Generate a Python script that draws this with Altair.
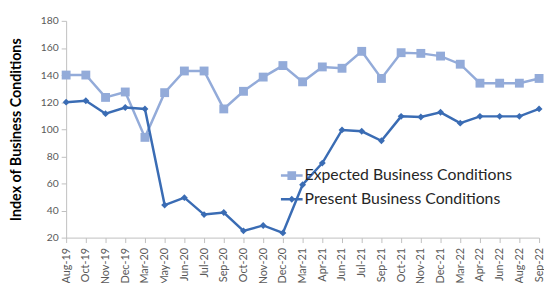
import altair as alt
import pandas as pd

months = ["Aug-19", "Oct-19", "Nov-19", "Dec-19", "Mar-20", "May-20", "Jun-20",
          "Jul-20", "Sep-20", "Oct-20", "Nov-20", "Dec-20", "Mar-21", "Apr-21",
          "Jun-21", "Jul-21", "Sep-21", "Oct-21", "Nov-21", "Dec-21", "Mar-22",
          "Apr-22", "Jun-22", "Aug-22", "Sep-22"]
expected = [140, 140, 123.5, 127.5, 94, 127, 143, 143, 115, 128, 138.5, 147, 135,
            146, 145, 157.5, 137.5, 156.5, 156, 154, 148, 134, 134, 134, 137.5]
present = [120, 121, 111.5, 116, 115, 44, 49.5, 37, 38.5, 25, 29, 23.5, 59, 75,
           99.5, 98.5, 91.5, 109.5, 109, 112.5, 104.5, 109.5, 109.5, 109.5, 115]
series_names = ["Expected Business Conditions", "Present Business Conditions"]
y_ticks = [20, 40, 60, 80, 100, 120, 140, 160, 180]

df = pd.DataFrame({
    "month": months * 2,
    "value": expected + present,
    "series": [series_names[0]] * len(months) + [series_names[1]] * len(months),
})

FONT = "Lato"
colors = ["#93ABD9", "#3A6CB4"]

legend_paths = [
    "M-1,-0.11H1V0.11H-1Z M-0.4,-0.4H0.4V0.4H-0.4Z",
    "M-1,-0.11H1V0.11H-1Z M0,-0.32L0.32,0L0,0.32L-0.32,0Z",
]

x_enc = alt.X("month:O", sort=months, scale=alt.Scale(padding=0),
              axis=alt.Axis(title=None, labelAngle=-90, labelFontSize=11,
                            labelPadding=5, tickSize=5))
y_enc = alt.Y("value:Q", scale=alt.Scale(domain=[20, 180], nice=False, zero=False),
              axis=alt.Axis(values=y_ticks, title="Index of Business Conditions",
                            titleFontSize=14.5, titleFontWeight="bold", titleColor="#000000",
                            titleFont=FONT, titlePadding=17, labelFontSize=10.5,
                            tickSize=5, labelPadding=3))
color_enc = alt.Color("series:N", scale=alt.Scale(domain=series_names, range=colors),
                      legend=alt.Legend(orient="none", legendX=218, legendY=146, title=None,
                                        labelFontSize=16, labelFont=FONT, labelColor="#262626",
                                        labelLimit=400,
                                        symbolSize=484, symbolOpacity=1, symbolStrokeWidth=0,
                                        labelOffset=2, rowPadding=5))

base = alt.Chart(df).encode(x=x_enc, y=y_enc, color=color_enc)

exp_line = base.transform_filter(alt.datum.series == series_names[0]).mark_line(
    strokeWidth=2.5, color="#8DB3E0")
exp_pts = base.transform_filter(alt.datum.series == series_names[0]).mark_point(
    filled=True, opacity=1, shape="square", size=81)
pre_line = base.transform_filter(alt.datum.series == series_names[1]).mark_line(strokeWidth=2.5)
pre_pts = base.transform_filter(alt.datum.series == series_names[1]).mark_point(
    filled=True, opacity=1, shape="diamond", size=49)
legend_layer = base.transform_filter("false").mark_point(filled=True, opacity=1).encode(
    shape=alt.Shape("series:N", scale=alt.Scale(domain=series_names, range=legend_paths))
)

chart = alt.layer(exp_line, exp_pts, pre_line, pre_pts, legend_layer).properties(
    width=480, height=220,
    autosize=alt.AutoSizeParams(type="none"),
    padding={"left": 59, "top": 11, "right": 5, "bottom": 44},
).configure_axis(
    grid=False, domainColor="#BFBFBF", tickColor="#BFBFBF", labelColor="#595959",
    labelFont=FONT, domainWidth=1,
).configure_view(stroke=None)

chart.save("out.html", embed_options={"renderer": "svg", "actions": False})
